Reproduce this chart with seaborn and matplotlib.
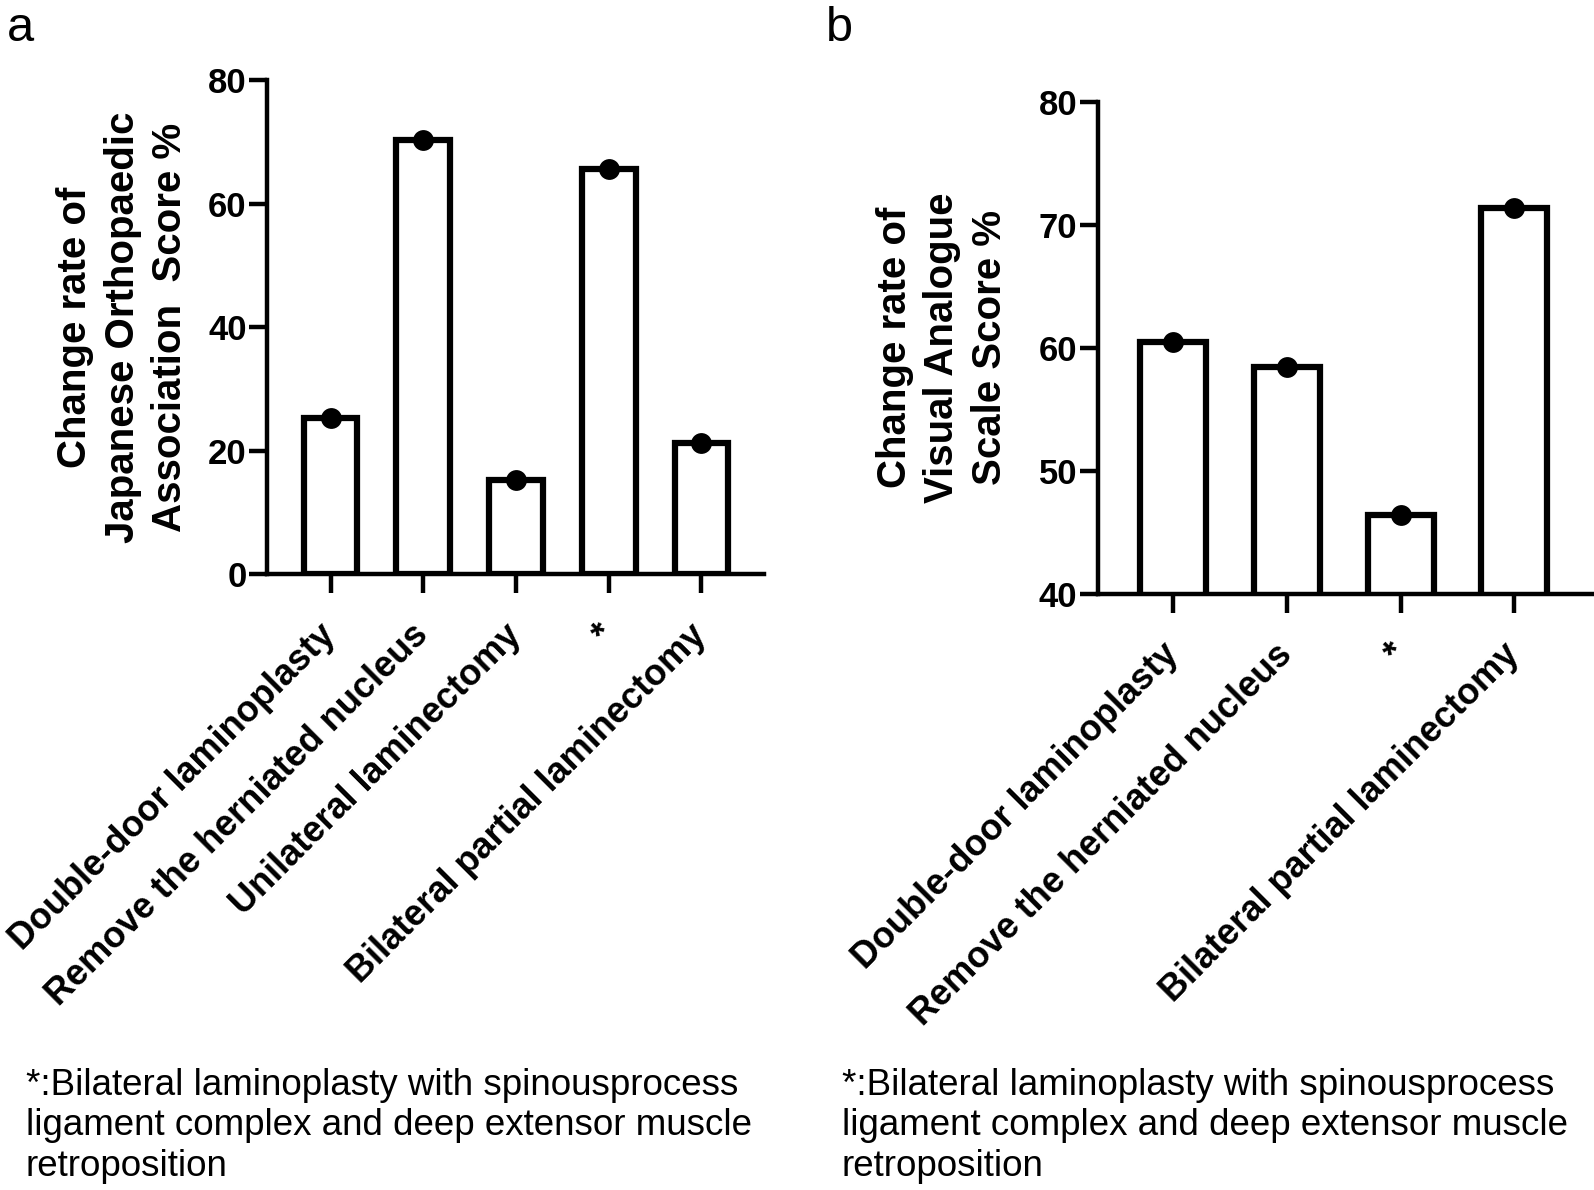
import numpy as np
import pandas as pd
import seaborn as sns
import matplotlib
matplotlib.use('Agg')
import matplotlib.pyplot as plt

#--Data
cats_a = ['Double-door laminoplasty', 'Remove the herniated nucleus',
          'Unilateral laminectomy', '*', 'Bilateral partial laminectomy']
joa_rate = [25.4, 70.3, 15.3, 65.7, 21.2]

cats_b = ['Double-door laminoplasty', 'Remove the herniated nucleus',
          '*', 'Bilateral partial laminectomy']
vas_rate = [60.5, 58.4, 46.4, 71.4]

ylab_a = 'Change rate of\nJapanese Orthopaedic\nAssociation  Score %'
ylab_b = 'Change rate of\nVisual Analogue\nScale Score %'
footnote = ('*:Bilateral laminoplasty with spinousprocess\n'
            'ligament complex and deep extensor muscle\n'
            'retroposition')

#--Style
sns.set_style('ticks')
plt.rcParams['font.family'] = ['Liberation Sans', 'DejaVu Sans']
plt.rcParams['axes.linewidth'] = 3.2
for key in ['text.color', 'axes.labelcolor', 'xtick.color', 'ytick.color', 'axes.edgecolor']:
    plt.rcParams[key] = 'black'

fig = plt.figure(figsize=(15.94, 11.90), dpi=100)
ax_a = fig.add_axes([0.1678, 0.5173, 0.3118, 0.4152])
ax_b = fig.add_axes([0.6890, 0.5011, 0.3110, 0.4134])


def draw_panel(ax, cats, vals, ylim, yticks, xlim, ylab, labx):
    df = pd.DataFrame({'group': cats, 'rate': vals})
    sns.barplot(data=df, x='group', y='rate', ax=ax, color='white',
                edgecolor='black', linewidth=4.5, width=0.58, errorbar=None)
    sns.stripplot(data=df, x='group', y='rate', ax=ax, color='black',
                  size=15, jitter=False, zorder=5, clip_on=False)
    ax.set_ylim(*ylim)
    ax.set_xlim(*xlim)
    ax.set_yticks(yticks)
    ax.set_yticklabels([str(t) for t in yticks], fontsize=25, fontweight='bold')
    ax.set_xticks(range(len(cats)))
    ax.set_xticklabels(cats, rotation=45, ha='right', va='center',
                       rotation_mode='anchor', fontsize=26, fontweight='bold')
    ax.tick_params(axis='y', length=13, width=3.2, pad=2)
    ax.tick_params(axis='x', length=14, width=3.2, pad=26)
    sns.despine(ax=ax)
    ax.set_xlabel('')
    ax.set_ylabel(ylab, fontsize=29, fontweight='bold', linespacing=1.32)
    ax.yaxis.set_label_coords(labx, 0.5)


draw_panel(ax_a, cats_a, joa_rate, (0, 80), [0, 20, 40, 60, 80],
           (-0.68, 4.68), ylab_a, -0.157)
draw_panel(ax_b, cats_b, vas_rate, (40, 80), [40, 50, 60, 70, 80],
           (-0.66, 3.70), ylab_b, -0.18)

#--Panel letters and footnotes
fig.text(0.004, 0.995, 'a', fontsize=35, va='top', ha='left')
fig.text(0.518, 0.995, 'b', fontsize=35, va='top', ha='left')
fig.text(0.016, 0.054, footnote, fontsize=26.5, va='center', ha='left', linespacing=1.2)
fig.text(0.528, 0.054, footnote, fontsize=26.5, va='center', ha='left', linespacing=1.2)

plt.savefig('out.png', dpi=100)
plt.close()
